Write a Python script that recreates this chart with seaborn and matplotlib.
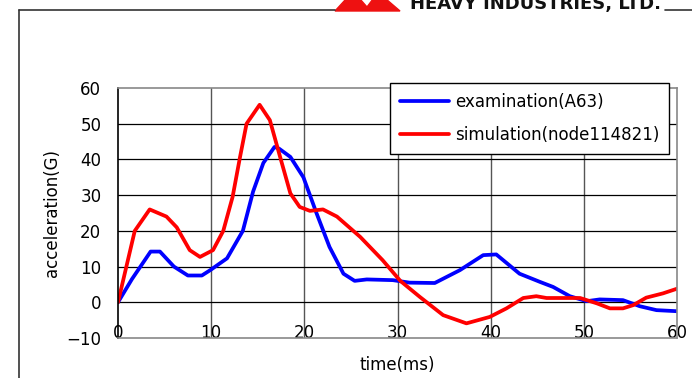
import matplotlib
matplotlib.use("Agg")
import matplotlib.pyplot as plt
from matplotlib.patches import Polygon
from matplotlib.lines import Line2D
import seaborn as sns
import pandas as pd

# examination (A63)
exam_t = [0, 1.5, 3.5, 4.5, 6.0, 7.5, 9.0, 9.9, 11.7, 13.4, 14.5, 15.6, 16.8, 17.3,
          18.5, 19.9, 21.3, 22.7, 24.2, 25.4, 26.7, 29.5, 31.3, 34.0, 36.7, 39.2,
          40.6, 43.1, 45.3, 46.7, 48.5, 50.3, 51.7, 54.2, 56.0, 57.8, 60.0]
exam_a = [0, 6.5, 14.2, 14.2, 10.0, 7.5, 7.5, 9.0, 12.3, 20.0, 31.0, 39.0, 43.5, 43.0,
          40.7, 35.0, 25.0, 15.5, 8.0, 6.0, 6.4, 6.2, 5.5, 5.4, 9.0, 13.2,
          13.4, 8.0, 5.7, 4.3, 1.7, 0.3, 0.8, 0.6, -1.1, -2.2, -2.5]

# simulation (node114821)
sim_t = [0, 1.8, 3.4, 5.2, 6.3, 7.7, 8.8, 10.2, 11.3, 12.3, 13.1, 13.8, 15.2, 16.3,
         17.4, 18.5, 19.5, 20.6, 22.0, 23.5, 26.0, 28.4, 30.3, 32.4, 34.9, 37.4,
         39.9, 41.7, 43.5, 44.9, 46.0, 49.6, 51.4, 52.8, 54.2, 55.3, 56.7, 58.5, 60.0]
sim_a = [0, 20.0, 26.0, 24.0, 21.0, 14.6, 12.7, 14.6, 20.0, 29.5, 40.7, 50.0, 55.3, 51.0,
         40.7, 30.5, 26.7, 25.6, 26.0, 24.0, 18.3, 11.8, 6.0, 1.5, -3.6, -5.9,
         -4.1, -1.7, 1.2, 1.7, 1.2, 1.2, -0.3, -1.7, -1.7, -0.8, 1.3, 2.5, 3.8]

series_names = ["examination(A63)", "simulation(node114821)"]
series_colors = ["#0000ff", "#ff0000"]
x_ticks = [0, 10, 20, 30, 40, 50, 60]
y_ticks = [-10, 0, 10, 20, 30, 40, 50, 60]

df = pd.concat([
    pd.DataFrame({"time": exam_t, "acc": exam_a, "series": series_names[0]}),
    pd.DataFrame({"time": sim_t, "acc": sim_a, "series": series_names[1]}),
])

sns.set_style("white")
plt.rcParams["font.family"] = ["DejaVu Sans"]
plt.rcParams["text.color"] = "black"
plt.rcParams["axes.labelcolor"] = "black"
plt.rcParams["xtick.color"] = "black"
plt.rcParams["ytick.color"] = "black"

fig = plt.figure(figsize=(6.92, 3.78), dpi=100)
ax = fig.add_axes([118 / 692, 1 - 338 / 378, (677 - 118) / 692, (338 - 88) / 378])

sns.lineplot(data=df, x="time", y="acc", hue="series", palette=series_colors,
             hue_order=series_names, linewidth=2.7, ax=ax, legend=False, sort=False,
             estimator=None)

ax.set_xlim(0, 60)
ax.set_ylim(-10, 60)
ax.set_xticks(x_ticks)
ax.set_yticks(y_ticks)

# grid
for v in x_ticks[1:-1]:
    ax.axvline(v, color="#555555", lw=1.0, zorder=0)
for v in y_ticks[1:-1]:
    ax.axhline(v, color="#000000", lw=0.9, zorder=0)

for s in ["top", "bottom", "right"]:
    ax.spines[s].set_color("#888888")
    ax.spines[s].set_linewidth(1.2)
ax.spines["left"].set_color("#000000")
ax.spines["left"].set_linewidth(1.2)

ax.tick_params(axis="x", length=0, pad=-10, labelsize=12, colors="black")
ax.tick_params(axis="y", length=0, pad=12, labelsize=12, colors="black")
ax.set_xlabel("time(ms)", fontsize=12, labelpad=10, color="black")
ax.set_ylabel("acceleration(G)", fontsize=12, labelpad=4, color="black")

handles = [Line2D([0], [0], color=c, lw=2.7) for c in series_colors]
leg = fig.legend(handles, series_names, loc="upper right",
                 bbox_to_anchor=(669 / 692, 1 - 83 / 378), fontsize=12,
                 frameon=True, fancybox=False, framealpha=1, edgecolor="#000000",
                 handlelength=2.9, handletextpad=0.35, borderpad=0.6,
                 labelspacing=0.9, borderaxespad=0)
leg.get_frame().set_linewidth(1.0)
for t in leg.get_texts():
    t.set_color("black")

# outer frame
fig.add_artist(Line2D([19 / 692, 19 / 692], [0, 1 - 10 / 378], color="#333333", lw=1.2,
                      transform=fig.transFigure))
fig.add_artist(Line2D([19 / 692, 335 / 692], [1 - 10 / 378, 1 - 10 / 378],
                      color="#333333", lw=1.2, transform=fig.transFigure))
fig.add_artist(Line2D([665 / 692, 1], [1 - 10 / 378, 1 - 10 / 378],
                      color="#333333", lw=1.2, transform=fig.transFigure))

# logo fragment
def fpt(x, y):
    return (x / 692, 1 - y / 378)

fig.add_artist(Polygon([fpt(335, 11), fpt(346, -1), fpt(360, -1), fpt(367, 7),
                        fpt(373, -1), fpt(386, -1), fpt(400, 11)],
                       closed=True, color="#ee1111", transform=fig.transFigure))
fig.text(410 / 692, 1 - 9 / 378, "HEAVY INDUSTRIES, LTD.", fontsize=13,
         fontweight="bold", color="#111111", ha="left", va="baseline",
         transform=fig.transFigure)

fig.savefig("out.png", dpi=100)
